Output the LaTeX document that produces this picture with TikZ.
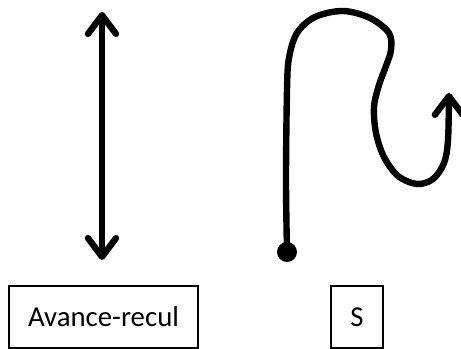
\documentclass[tikz,border=0pt]{standalone}
\usepackage{fontspec}
\setmainfont{Carlito}
\usetikzlibrary{arrows.meta}
\begin{document}
\begin{tikzpicture}[x=0.75pt,y=-0.75pt,
  heavy/.style={line width=4.8pt, line cap=round, line join=round},
  barb/.tip={Straight Barb[round,length=14pt,width=21pt]},
  labelbox/.style={draw, line width=0.8pt, minimum height=46.5pt, inner sep=0pt, font=\fontsize{21.6}{26}\selectfont}]
\useasboundingbox (0,0) rectangle (461,349);
% double arrow
\coordinate (top) at (102,12);
\coordinate (bot) at (102,260);
\draw[heavy, barb-barb] (top) -- (bot);
% S path
\node[circle, fill, inner sep=0pt, minimum size=15pt] (dot) at (287,252) {};
\draw[heavy, -barb] plot[smooth, tension=0.55] coordinates {(287,252) (286,180) (287,90) (289,58) (297,33) (315,17) (343,11) (370,18) (389,33) (391,50) (386,66) (379,85) (374,107) (376,133) (384,157) (398,176) (417,184) (433,179) (444,163) (448,140) (449,93)};
% labels
\node[labelbox, minimum width=141.75pt] (avr) at (103.5,317) {Avance-recul};
\node[labelbox, minimum width=39pt] (s) at (357,317) {S};
\end{tikzpicture}
\end{document}
